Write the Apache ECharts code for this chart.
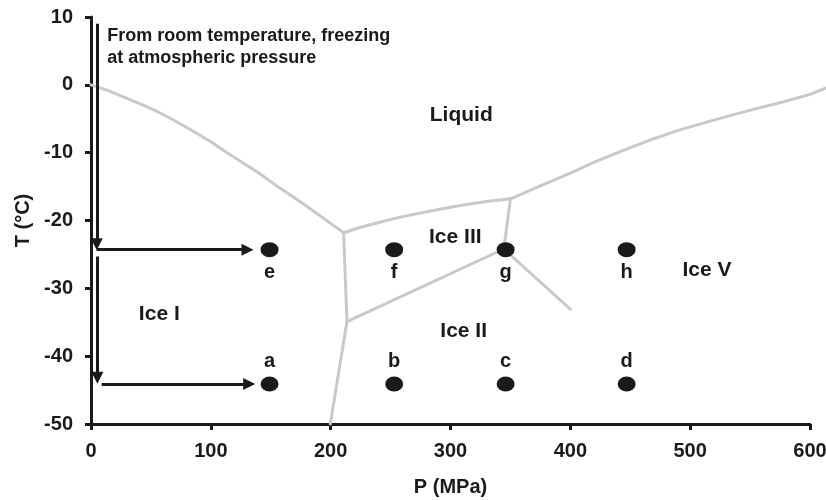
<!DOCTYPE html>
<html>
<head>
<meta charset="utf-8">
<script src="https://cdn.jsdelivr.net/npm/echarts@6/dist/echarts.min.js"></script>
<style>
  html, body { margin: 0; padding: 0; background: #fff; }
  #chart { width: 826px; height: 500px; }
</style>
</head>
<body>
<div id="chart"></div>
<script>
// Axis ranges and ticks
const pTicks = [0, 100, 200, 300, 400, 500, 600];
const tTicks = [-50, -40, -30, -20, -10, 0, 10];

// Phase boundaries, [P (MPa), T (°C)]
const iceILiquid = [[0, 0], [15, -0.9], [30, -2.0], [45, -3.1], [55, -3.9], [70, -5.3], [85, -6.8], [100, -8.4], [110, -9.6], [125, -11.3], [140, -13.0], [155, -14.9], [166, -16.2], [180, -17.9], [195, -19.8], [210.8, -21.8]];
const iceIIceIII = [[210.8, -21.8], [213.6, -34.9]];
const iceIIceII = [[213.6, -34.9], [199.7, -50]];
const iceIIILiquid = [[210.8, -21.8], [225, -21.0], [240, -20.3], [258, -19.5], [275, -18.9], [292, -18.3], [308, -17.8], [330, -17.2], [350, -16.8]];
const iceIIIIceV = [[350, -16.8], [344.5, -24.2]];
const iceIIIIceII = [[213.6, -34.9], [344.5, -24.2]];
const iceIIIceV = [[344.5, -24.2], [400.2, -33.1]];
const iceVLiquid = [[350, -16.8], [375, -14.9], [400, -13.0], [420, -11.4], [442, -9.8], [467, -8.1], [492, -6.6], [514, -5.5], [534, -4.5], [555, -3.5], [578, -2.5], [600, -1.4], [613, -0.5]];

// Sample states
const pointNames = ['e', 'f', 'g', 'h', 'a', 'b', 'c', 'd'];
const pointP = [149, 253, 346, 447, 149, 253, 346, 447];
const pointT = [-24.3, -24.3, -24.3, -24.3, -44.1, -44.1, -44.1, -44.1];

// Phase region names
const regionNames = ['Liquid', 'Ice I', 'Ice II', 'Ice III', 'Ice V'];
const regionP = [309, 57, 311, 304, 514];
const regionT = [-4.5, -33.8, -36.3, -22.5, -27.4];

// Cooling path arrows: [start, end]
const coolingPath = [
  [[4.8, 9.0], [4.8, -23.5]],
  [[4.8, -24.3], [130.6, -24.3]],
  [[5.3, -25.3], [5.3, -43.2]],
  [[8.9, -44.1], [132.0, -44.1]]
];

const noteText = 'From room temperature, freezing\nat atmospheric pressure';
const noteAt = [13.6, 5.5];

const FONT = '"Liberation Sans", Arial, sans-serif';
const INK = '#1a1a1a';
const BOUNDARY = '#c9c9c9';

// All phase boundaries drawn as one polyline set, allowed to run past the axis end
const boundaries = [iceILiquid, iceIIceIII, iceIIceII, iceIIILiquid, iceIIIIceV, iceIIIIceII, iceIIIceV, iceVLiquid];

const chart = echarts.init(document.getElementById('chart'), null, { renderer: 'canvas' });

chart.setOption({
  animation: false,
  backgroundColor: '#ffffff',
  textStyle: { fontFamily: FONT },
  grid: { left: 91, right: 16, top: 17, bottom: 76, outerBoundsMode: 'none', containLabel: false },
  xAxis: {
    type: 'value',
    min: pTicks[0],
    max: pTicks[pTicks.length - 1],
    interval: 100,
    name: 'P (MPa)',
    nameLocation: 'middle',
    nameGap: 53,
    nameTextStyle: { fontFamily: FONT, fontWeight: 'bold', fontSize: 20, color: INK },
    axisLine: { onZero: false, lineStyle: { color: INK, width: 3 } },
    axisTick: { length: 6, lineStyle: { color: INK, width: 3 } },
    axisLabel: { margin: 17, fontFamily: FONT, fontWeight: 'bold', fontSize: 20, color: INK },
    splitLine: { show: false }
  },
  yAxis: {
    type: 'value',
    min: tTicks[0],
    max: tTicks[tTicks.length - 1],
    interval: 10,
    name: 'T (°C)',
    nameLocation: 'middle',
    nameGap: 58,
    nameTextStyle: { fontFamily: FONT, fontWeight: 'bold', fontSize: 20, color: INK },
    axisLine: { onZero: false, lineStyle: { color: INK, width: 3 } },
    axisTick: { length: 6, lineStyle: { color: INK, width: 3 } },
    axisLabel: { margin: 18, fontFamily: FONT, fontWeight: 'bold', fontSize: 20, color: INK },
    splitLine: { show: false }
  },
  series: [
    {
      type: 'lines',
      coordinateSystem: 'cartesian2d',
      polyline: true,
      clip: false,
      silent: true,
      lineStyle: { color: BOUNDARY, width: 3, opacity: 1, join: 'round', cap: 'round' },
      data: boundaries.map(function (pts) { return { coords: pts }; }),
      z: 2
    },
    {
      type: 'lines',
      coordinateSystem: 'cartesian2d',
      silent: true,
      symbol: ['none', 'triangle'],
      symbolSize: [10, 12],
      lineStyle: { color: INK, width: 3, opacity: 1 },
      data: coolingPath.map(function (seg) { return { coords: seg }; }),
      z: 3
    },
    {
      type: 'scatter',
      silent: true,
      symbol: 'circle',
      symbolSize: [18, 15],
      itemStyle: { color: INK, opacity: 1 },
      data: pointNames.map(function (n, i) {
        return {
          name: n,
          value: [pointP[i], pointT[i]],
          label: { position: i < 4 ? 'bottom' : 'top' }
        };
      }),
      label: {
        show: true,
        distance: 5,
        formatter: '{b}',
        fontFamily: FONT,
        fontWeight: 'bold',
        fontSize: 20,
        color: INK
      },
      z: 4
    },
    {
      type: 'scatter',
      silent: true,
      symbolSize: 0,
      itemStyle: { opacity: 1 },
      data: regionNames.map(function (n, i) {
        return { name: n, value: [regionP[i], regionT[i]] };
      }),
      label: {
        show: true,
        position: 'inside',
        formatter: '{b}',
        fontFamily: FONT,
        fontWeight: 'bold',
        fontSize: 21,
        color: INK
      },
      z: 4
    },
    {
      type: 'scatter',
      silent: true,
      symbolSize: 0,
      itemStyle: { opacity: 1 },
      data: [{ name: noteText, value: noteAt }],
      label: {
        show: true,
        position: 'inside',
        align: 'left',
        verticalAlign: 'middle',
        formatter: '{b}',
        fontFamily: FONT,
        fontWeight: 'bold',
        fontSize: 18,
        lineHeight: 22,
        color: INK
      },
      z: 4
    }
  ]
});
</script>
</body>
</html>
